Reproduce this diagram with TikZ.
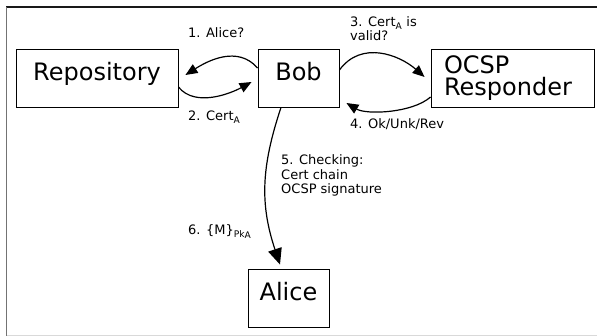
\documentclass[tikz,border=0pt]{standalone}
\usepackage{fontspec}
\setmainfont{DejaVu Sans}
\usetikzlibrary{arrows.meta}
\tikzset{
  box/.style={draw, line width=0.9pt, inner sep=0pt, font=\fontsize{24}{22}\selectfont},
  onebox/.style={box, minimum height=58pt, text height=18pt, text depth=12pt},
  lbl/.style={anchor=base west, inner sep=0pt, font=\fontsize{13}{13.5}\selectfont},
  conn/.style={line width=1.2pt, -{Triangle[length=12pt,width=10pt]}},
  bigconn/.style={line width=1.2pt, -{Triangle[length=16pt,width=14pt]}}
}
\begin{document}
\begin{tikzpicture}[x=1pt,y=-1pt]
\useasboundingbox (0,0) rectangle (597,336);
% frame
\draw[line width=1.2pt, black!90] (6,7) -- (597,7);
\draw[line width=1.2pt, black!55] (6.5,7) -- (6.5,336);
\draw[line width=1pt, black!15] (7,335.5) -- (597,335.5);
% boxes
\node[onebox, minimum width=162pt] (repo) at (97,78) {Repository};
\node[onebox, minimum width=81pt] (bob) at (298.5,78) {Bob};
\node[box, minimum width=163pt, minimum height=58pt, text width=137pt, inner xsep=13pt, align=left] (ocsp) at (512.5,78) {OCSP\\Responder};
\node[onebox, minimum width=81pt] (alice) at (288.5,298) {Alice};
% connectors
\draw[conn] ([yshift=10pt]bob.west) .. controls +(-20,-23) and +(22,-14) .. ([xshift=7pt,yshift=3pt]repo.east);
\draw[conn] ([yshift=-9pt]repo.east) .. controls +(17,21) and +(-20,11) .. ([xshift=-6pt,yshift=-4pt]bob.west);
\draw[conn] ([yshift=8pt]bob.east) .. controls +(22,-30) and +(-25,-22) .. ([xshift=-6pt,yshift=1pt]ocsp.west);
\draw[conn] ([yshift=-19pt]ocsp.west) .. controls +(-18,16) and +(20,12) .. ([xshift=7pt,yshift=-25pt]bob.east);
\draw[bigconn] ([xshift=-17.5pt]bob.south) .. controls +(-20,60) and +(-20,-60) .. ([xshift=-8.5pt,yshift=4pt]alice.north);
% labels
\node[lbl] (l1) at (188,37.7) {1. Alice?};
\node[lbl, font=\fontsize{13}{12.7}\selectfont] (l2) at (188,120.7) {2. Cert\textsubscript{A}};
\node[lbl, font=\fontsize{13}{12.7}\selectfont] (l3) at (350,26.7) {\begin{tabular}[t]{@{}l@{}}3. Cert\textsubscript{A} is\\valid?\end{tabular}};
\node[lbl] (l4) at (350,129) {4. Ok/Unk/Rev};
\node[lbl, font=\fontsize{13}{14}\selectfont] (l5) at (281,165) {\begin{tabular}[t]{@{}l@{}}5. Checking:\\Cert chain\\OCSP signature\end{tabular}};
\node[lbl] (l6) at (188,235) {6. \{M\}\textsubscript{Pk\raisebox{-1pt}{A}}};
\end{tikzpicture}
\end{document}
